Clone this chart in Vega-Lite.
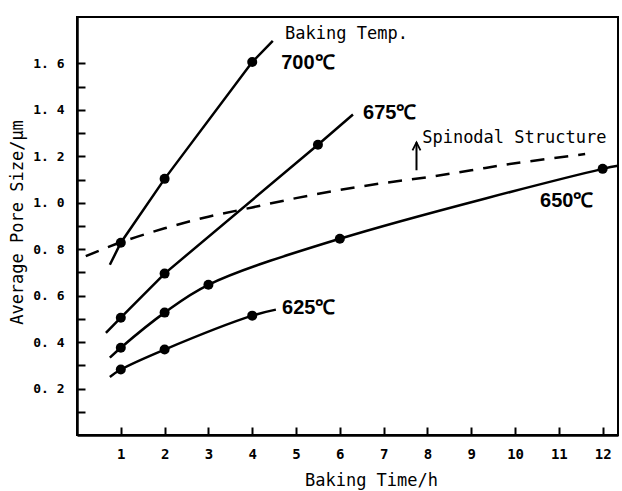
{
  "$schema": "https://vega.github.io/schema/vega-lite/v6.json",
  "width": 541,
  "height": 418,
  "autosize": "none",
  "padding": {"left": 77, "top": 17, "right": 4, "bottom": 56},
  "background": "white",
  "config": {
    "view": {"stroke": "black", "strokeWidth": 2},
    "axis": {
      "grid": false,
      "domainColor": "black",
      "domainWidth": 2.5,
      "tickColor": "black",
      "tickWidth": 2,
      "tickSize": -8,
      "tickCount": 50,
      "labelOverlap": false,
      "labelFont": "DejaVu Sans Mono",
      "labelFontSize": 14,
      "labelFontWeight": "bold",
      "labelColor": "black",
      "titleFont": "DejaVu Sans Mono",
      "titleFontSize": 17,
      "titleFontWeight": "normal",
      "titleColor": "black"
    }
  },
  "datasets": {
    "curves": [
      {"series": "700", "x": 0.75, "y": 0.733, "kind": "end"},
      {"series": "700", "x": 1, "y": 0.828, "kind": "measured"},
      {"series": "700", "x": 2, "y": 1.103, "kind": "measured"},
      {"series": "700", "x": 4, "y": 1.606, "kind": "measured"},
      {"series": "700", "x": 4.47, "y": 1.697, "kind": "end"},
      {"series": "675", "x": 0.66, "y": 0.44, "kind": "end"},
      {"series": "675", "x": 1, "y": 0.505, "kind": "measured"},
      {"series": "675", "x": 2, "y": 0.695, "kind": "measured"},
      {"series": "675", "x": 5.5, "y": 1.25, "kind": "measured"},
      {"series": "675", "x": 6.3, "y": 1.38, "kind": "end"},
      {"series": "650", "x": 0.75, "y": 0.333, "kind": "end"},
      {"series": "650", "x": 1, "y": 0.376, "kind": "measured"},
      {"series": "650", "x": 2, "y": 0.527, "kind": "measured"},
      {"series": "650", "x": 3, "y": 0.647, "kind": "measured"},
      {"series": "650", "x": 6, "y": 0.845, "kind": "measured"},
      {"series": "650", "x": 12, "y": 1.146, "kind": "measured"},
      {"series": "650", "x": 12.35, "y": 1.159, "kind": "end"},
      {"series": "625", "x": 0.75, "y": 0.25, "kind": "end"},
      {"series": "625", "x": 1, "y": 0.282, "kind": "measured"},
      {"series": "625", "x": 2, "y": 0.368, "kind": "measured"},
      {"series": "625", "x": 4, "y": 0.514, "kind": "measured"},
      {"series": "625", "x": 4.54, "y": 0.54, "kind": "end"}
    ],
    "spinodal": [
      {"x": 0.2, "y": 0.77},
      {"x": 1, "y": 0.83},
      {"x": 2, "y": 0.89},
      {"x": 3, "y": 0.94},
      {"x": 4, "y": 0.98},
      {"x": 5, "y": 1.02},
      {"x": 6, "y": 1.055},
      {"x": 7, "y": 1.085},
      {"x": 8, "y": 1.11},
      {"x": 9, "y": 1.14},
      {"x": 10, "y": 1.17},
      {"x": 11.6, "y": 1.21}
    ],
    "monoLabels": [
      {"x": 4.75, "y": 1.728, "text": "Baking Temp."},
      {"x": 7.88, "y": 1.28, "text": "Spinodal Structure"}
    ],
    "tempLabels": [
      {"x": 4.66, "y": 1.604, "text": "700℃"},
      {"x": 6.53, "y": 1.388, "text": "675℃"},
      {"x": 10.57, "y": 1.009, "text": "650℃"},
      {"x": 4.68, "y": 0.549, "text": "625℃"}
    ],
    "arrow": [
      {"x": 7.75, "y": 1.14, "y2": 1.26}
    ]
  },
  "layer": [
    {
      "data": {"name": "spinodal"},
      "mark": {"type": "line", "color": "black", "strokeWidth": 2.5, "strokeDash": [14, 10], "interpolate": "catmull-rom"},
      "encoding": {
        "x": {"field": "x", "type": "quantitative", "scale": {"domain": [0, 12.35], "nice": false},
          "axis": {"values": [1,2,3,4,5,6,7,8,9,10,11,12], "format": "d", "title": "Baking Time/h", "labelPadding": 20, "titleX": 294, "titleY": 37, "titleBaseline": "top"}},
        "y": {"field": "y", "type": "quantitative", "scale": {"domain": [0, 1.8], "nice": false},
          "axis": {"values": [0.1,0.2,0.3,0.4,0.5,0.6,0.7,0.8,0.9,1.0,1.1,1.2,1.3,1.4,1.5,1.6],
            "format": ".1f", "tickCount": 50, "labelOverlap": false, "labelFontSize": 13,
            "labelExpr": "round(datum.value * 10) % 2 == 0 ? replace(datum.label, '.', '. ') : ''",
            "title": "Average Pore Size/μm", "labelPadding": 21, "titleX": -51, "titleY": 205}}
      }
    },
    {
      "data": {"name": "curves"},
      "transform": [{"filter": "datum.series == '700' || datum.series == '675'"}],
      "mark": {"type": "line", "color": "black", "strokeWidth": 2.5, "interpolate": "linear"},
      "encoding": {
        "x": {"field": "x", "type": "quantitative"},
        "y": {"field": "y", "type": "quantitative"},
        "detail": {"field": "series"}
      }
    },
    {
      "data": {"name": "curves"},
      "transform": [{"filter": "datum.series == '650' || datum.series == '625'"}],
      "mark": {"type": "line", "color": "black", "strokeWidth": 2.5, "interpolate": "catmull-rom"},
      "encoding": {
        "x": {"field": "x", "type": "quantitative"},
        "y": {"field": "y", "type": "quantitative"},
        "detail": {"field": "series"}
      }
    },
    {
      "data": {"name": "curves"},
      "transform": [{"filter": "datum.kind == 'measured'"}],
      "mark": {"type": "point", "filled": true, "color": "black", "opacity": 1, "size": 100, "shape": "circle"},
      "encoding": {
        "x": {"field": "x", "type": "quantitative"},
        "y": {"field": "y", "type": "quantitative"}
      }
    },
    {
      "data": {"name": "arrow"},
      "mark": {"type": "rule", "color": "black", "strokeWidth": 2},
      "encoding": {
        "x": {"field": "x", "type": "quantitative"},
        "y": {"field": "y", "type": "quantitative"},
        "y2": {"field": "y2"}
      }
    },
    {
      "data": {"name": "arrow"},
      "mark": {"type": "point", "shape": "M-1,1L0,-1L1,1", "filled": false, "color": "black", "strokeWidth": 1.8, "size": 64, "opacity": 1, "yOffset": 4},
      "encoding": {
        "x": {"field": "x", "type": "quantitative"},
        "y": {"field": "y2", "type": "quantitative"}
      }
    },
    {
      "data": {"name": "monoLabels"},
      "mark": {"type": "text", "align": "left", "baseline": "middle", "font": "DejaVu Sans Mono", "fontSize": 17, "color": "black"},
      "encoding": {
        "x": {"field": "x", "type": "quantitative"},
        "y": {"field": "y", "type": "quantitative"},
        "text": {"field": "text"}
      }
    },
    {
      "data": {"name": "tempLabels"},
      "mark": {"type": "text", "align": "left", "baseline": "middle", "font": "Liberation Sans", "fontSize": 20, "fontWeight": "bold", "color": "black"},
      "encoding": {
        "x": {"field": "x", "type": "quantitative"},
        "y": {"field": "y", "type": "quantitative"},
        "text": {"field": "text"}
      }
    }
  ]
}
